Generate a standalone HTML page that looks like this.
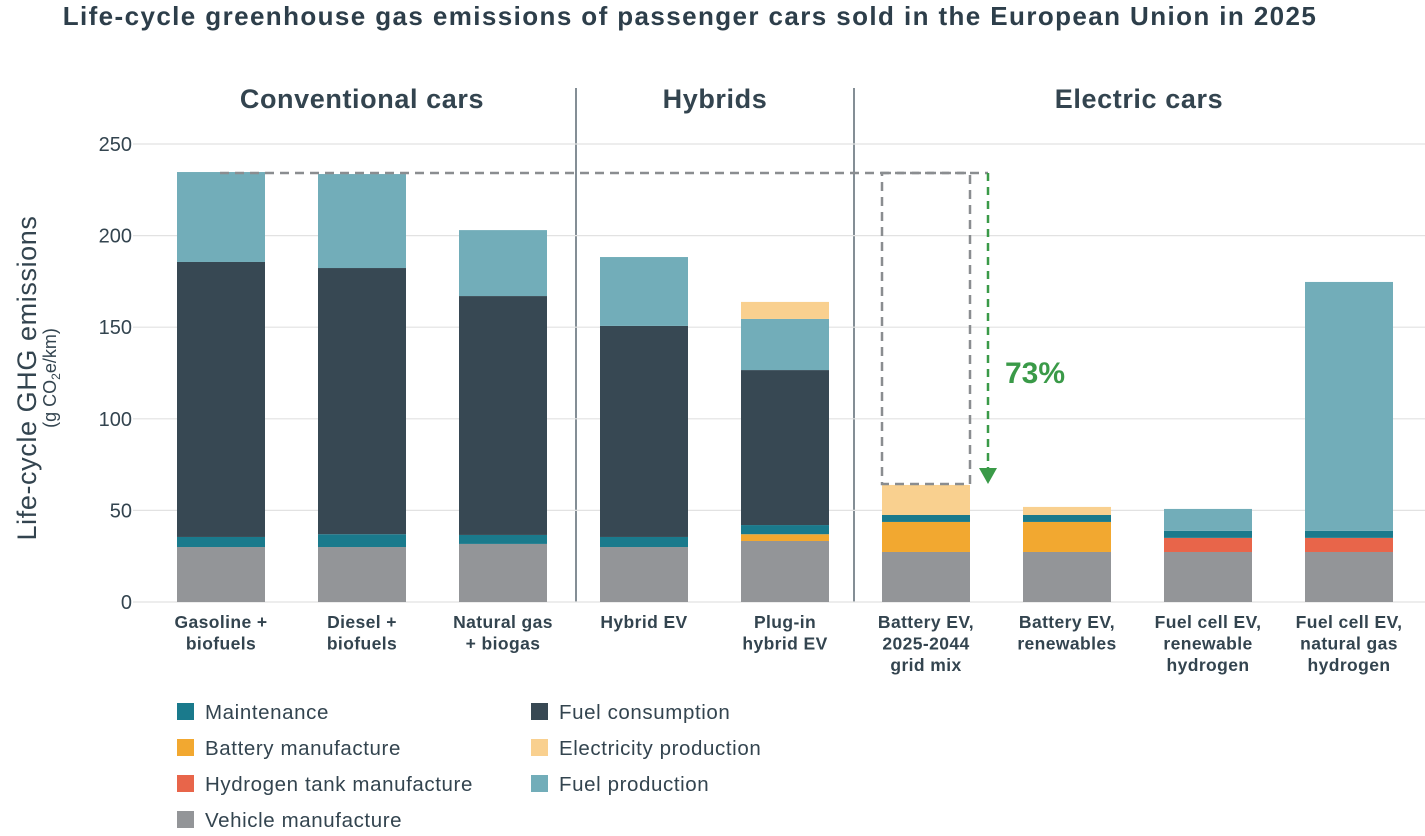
<!DOCTYPE html>
<html><head><meta charset="utf-8"><style>
body{margin:0;background:#fff;font-family:"Liberation Sans",sans-serif;}
svg text{font-family:"Liberation Sans",sans-serif;}
</style></head><body>
<svg id="chart" width="1425" height="831" xmlns="http://www.w3.org/2000/svg">
<text x="690" y="25" text-anchor="middle" font-size="26" font-weight="bold" letter-spacing="1.4" fill="#2d3e4a">Life-cycle greenhouse gas emissions of passenger cars sold in the European Union in 2025</text>
<text x="362" y="108" text-anchor="middle" font-size="27" font-weight="bold" letter-spacing="0.6" fill="#33444f">Conventional cars</text>
<text x="715" y="108" text-anchor="middle" font-size="27" font-weight="bold" letter-spacing="0.6" fill="#33444f">Hybrids</text>
<text x="1139" y="108" text-anchor="middle" font-size="27" font-weight="bold" letter-spacing="0.6" fill="#33444f">Electric cars</text>
<line x1="576" y1="88" x2="576" y2="602" stroke="#33444f" stroke-width="1.2"/>
<line x1="854" y1="88" x2="854" y2="602" stroke="#33444f" stroke-width="1.2"/>
<g transform="translate(36,378) rotate(-90)">
<text x="0" y="0" text-anchor="middle" font-size="27" fill="#33444f" letter-spacing="0.6">Life-cycle GHG emissions</text>
<text x="0" y="20" text-anchor="middle" font-size="18" fill="#33444f">(g CO<tspan font-size="12" dy="4">2</tspan><tspan dy="-4">e/km)</tspan></text>
</g>
<g id="grid"></g><g id="bars"></g><g id="labels"></g>
<path d="M220,173 H988" stroke="#8a8d90" stroke-width="2.5" stroke-dasharray="9,6" fill="none"/>
<rect x="882" y="173" width="88" height="311" stroke="#8a8d90" stroke-width="2.5" stroke-dasharray="9,6" fill="none"/>
<line x1="988" y1="173" x2="988" y2="470" stroke="#3a9a48" stroke-width="2.5" stroke-dasharray="8,6"/>
<polygon points="979,468 997,468 988,484" fill="#3a9a48"/>
<text x="1005" y="383" font-size="30" font-weight="bold" fill="#3a9a48">73%</text>
<g id="legend"></g>
</svg>
<script>
const categories=[["Gasoline +","biofuels"],["Diesel +","biofuels"],["Natural gas","+ biogas"],["Hybrid EV"],["Plug-in","hybrid EV"],["Battery EV,","2025-2044","grid mix"],["Battery EV,","renewables"],["Fuel cell EV,","renewable","hydrogen"],["Fuel cell EV,","natural gas","hydrogen"]];
const vehicleManufacture=[30,30,31.7,30,33.3,27.3,27.3,27.3,27.3];
const hydrogenTank=[0,0,0,0,0,0,0,7.7,7.7];
const batteryManufacture=[0,0,0,0,3.7,16.4,16.4,0,0];
const maintenance=[5.5,7,4.9,5.5,5,3.8,3.8,3.8,3.8];
const fuelConsumption=[150.1,145.3,130.4,115.2,84.6,0,0,0,0];
const fuelProduction=[49.1,51.3,36,37.6,27.9,0,0,12,135.9];
const electricityProduction=[0,0,0,0,9.3,16.4,4.4,0,0];
const yTicks=[0,50,100,150,200,250];
const ns="http://www.w3.org/2000/svg";
function y(v){return 602-v*1.832;}
function x(i){return 177+i*141;}
const bw=88;
function mk(t,a,p){const e=document.createElementNS(ns,t);for(const k in a)e.setAttribute(k,a[k]);p.appendChild(e);return e;}
const grid=document.getElementById('grid');
yTicks.forEach(t=>{
 const l=mk('line',{x1:133,x2:1425,y1:y(t),y2:y(t),stroke:'#e2e2e2','stroke-width':1.2},grid);
 
 
 const tx=mk('text',{x:132,y:y(t)+7,'text-anchor':'end','font-size':20,fill:'#33444f'},grid);
 tx.textContent=t;
 
 
});
const series=[
 ['vehicle-manufacture',vehicleManufacture,'#939598'],
 ['hydrogen-tank-manufacture',hydrogenTank,'#e8654a'],
 ['battery-manufacture',batteryManufacture,'#f2a830'],
 ['maintenance',maintenance,'#1a7a8c'],
 ['fuel-consumption',fuelConsumption,'#374853'],
 ['fuel-production',fuelProduction,'#72adb9'],
 ['electricity-production',electricityProduction,'#f9d08f']];
const bars=document.getElementById('bars');
categories.forEach((c,i)=>{
 let acc=0;
 series.forEach(s=>{
  const v=s[1][i]; if(!v) return;
  const r=mk('rect',{x:x(i),y:y(acc+v),width:bw,height:v*1.832,fill:s[2]},bars);
  
  
  acc+=v;
 });
 const t=mk('text',{'text-anchor':'middle','font-size':17.5,'font-weight':'bold','letter-spacing':0.4,fill:'#33444f'},document.getElementById('labels'));
 
 
 c.forEach((ln,j)=>{const ts=mk('tspan',{x:x(i)+bw/2,y:628+j*21.5},t);ts.textContent=ln;});
});
const legend=[['Maintenance','#1a7a8c',177,712],['Battery manufacture','#f2a830',177,748],['Hydrogen tank manufacture','#e8654a',177,784],['Vehicle manufacture','#939598',177,820],['Fuel consumption','#374853',531,712],['Electricity production','#f9d08f',531,748],['Fuel production','#72adb9',531,784]];
const lg=document.getElementById('legend');
legend.forEach(l=>{
 const g=mk('g',{},lg);
 
 
 mk('rect',{x:l[2],y:l[3]-9,width:17,height:17,fill:l[1]},g);
 const t=mk('text',{x:l[2]+28,y:l[3]+7,'font-size':20.5,'letter-spacing':0.6,fill:'#33444f'},g);t.textContent=l[0];
});
</script>
</body></html>
